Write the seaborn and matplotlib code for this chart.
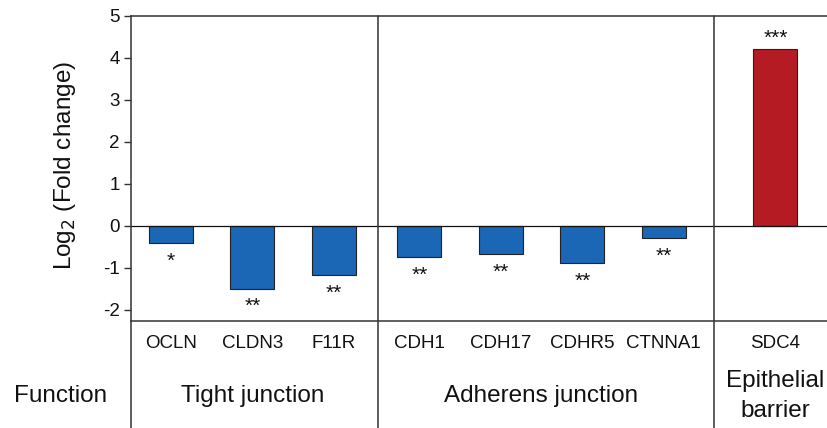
import matplotlib
matplotlib.use("Agg")
import matplotlib.pyplot as plt
import matplotlib.transforms as mtrans
import numpy as np
import pandas as pd
import seaborn as sns

genes = ["OCLN", "CLDN3", "F11R", "CDH1", "CDH17", "CDHR5", "CTNNA1", "SDC4"]
log2_fc = [-0.42, -1.50, -1.17, -0.74, -0.67, -0.89, -0.30, 4.21]
stars = ["*", "**", "**", "**", "**", "**", "**", "***"]
groups = ["Tight junction"] * 3 + ["Adherens junction"] * 4 + ["Epithelial\nbarrier"]
group_names = ["Tight junction", "Adherens junction", "Epithelial\nbarrier"]
y_ticks = [5, 4, 3, 2, 1, 0, -1, -2]

# layout only: extra gap in front of each function group, separator lines
group_shift = {"Tight junction": 0.0, "Adherens junction": 0.05, "Epithelial\nbarrier": 0.42}
sep_x = [2.54, 6.66]

df = pd.DataFrame({"gene": genes, "fc": log2_fc, "group": groups, "stars": stars})
df["pos"] = np.arange(len(df)) + df["group"].map(group_shift)
df["dir"] = np.where(df["fc"] < 0, "down", "up")

sns.set_style("ticks")
plt.rcParams["font.family"] = ["Liberation Sans", "DejaVu Sans"]

fig = plt.figure(figsize=(8.28, 4.28), dpi=100)
ax = fig.add_axes([131 / 828, 1 - 321 / 428, 1 - 131 / 828, (321 - 16) / 428])

sns.barplot(data=df, x="pos", y="fc", hue="dir", native_scale=True,
            palette={"down": "#1b66b5", "up": "#b51b23"}, dodge=False,
            saturation=1, width=0.54, errorbar=None, edgecolor="#222222",
            linewidth=0.8, legend=False, ax=ax)

ax.set_xlim(-0.488, 8.065)
ax.set_ylim(-2.27, 5)
ax.set_yticks(y_ticks)
ax.set_yticklabels([str(t) for t in y_ticks], fontsize=13.5, color="#111111")
ax.set_xticks([])
ax.set_xlabel("")
ax.set_ylabel("")
ax.tick_params(axis="y", direction="out", length=5, width=1, color="#333333", pad=3)
ax.axhline(0, color="#111111", lw=0.9, zorder=1)

for side in ["left", "top", "bottom"]:
    ax.spines[side].set_color("#333333")
    ax.spines[side].set_linewidth(1.1)
ax.spines["right"].set_visible(False)

# stars above / below each bar
for _, r in df.iterrows():
    off = 4 if r.fc > 0 else -17
    ax.annotate(r.stars, (r.pos, r.fc), xytext=(0, off), textcoords="offset points",
                ha="center", va="baseline", fontsize=15, color="#111111")

# table part under the plot
tr = mtrans.blended_transform_factory(ax.transData, fig.transFigure)
for x in sep_x + [ax.get_xlim()[0]]:
    top = 1 - 16 / 428 if x in sep_x else 1 - 321 / 428
    ax.plot([x, x], [0, top], transform=tr, color="#333333", lw=1.1, clip_on=False)

for _, r in df.iterrows():
    ax.text(r.pos, 1 - 343 / 428, r.gene, transform=tr, ha="center", va="center",
            fontsize=13.5, color="#111111")

for g in group_names:
    gx = df.loc[df.group == g, "pos"].mean()
    ax.text(gx, 1 - 396 / 428, g, transform=tr, ha="center", va="center",
            fontsize=17.5, color="#111111", linespacing=1.45)

fig.text(61 / 828, 1 - 396 / 428, "Function", ha="center", va="center",
         fontsize=17.5, color="#111111")
fig.text(65 / 828, 1 - 166 / 428, "Log$_2$ (Fold change)", rotation=90,
         ha="center", va="center", fontsize=17.5, color="#111111")

fig.savefig("out.png", dpi=100)
